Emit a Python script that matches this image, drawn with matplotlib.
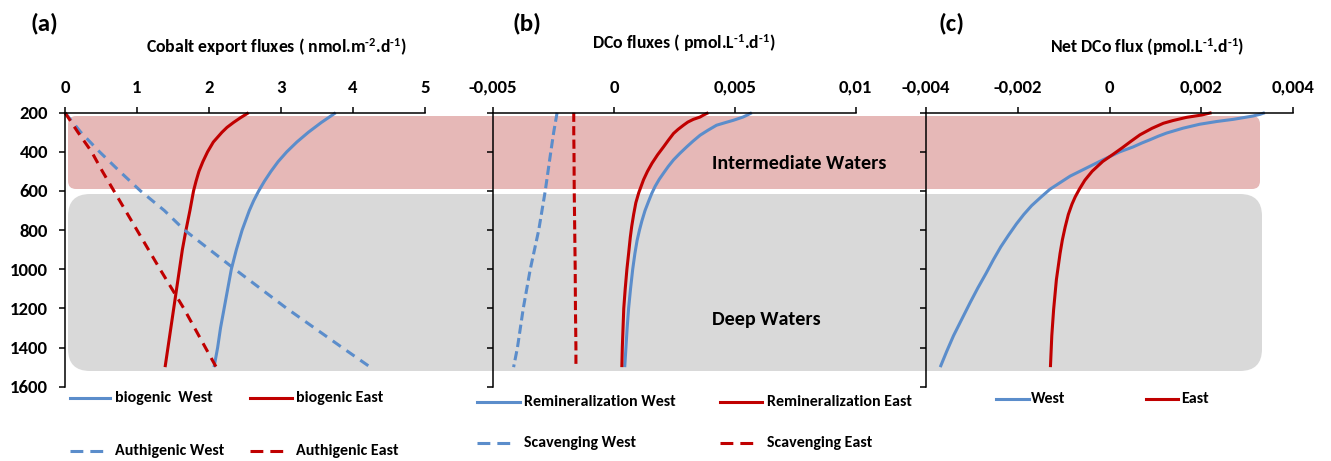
import matplotlib
matplotlib.use("Agg")
import matplotlib.pyplot as plt
from matplotlib.patches import FancyBboxPatch
from matplotlib.lines import Line2D

plt.rcParams['font.family'] = ['Carlito', 'DejaVu Sans']
plt.rcParams['font.weight'] = 'bold'
plt.rcParams['mathtext.fontset'] = 'custom'
plt.rcParams['mathtext.rm'] = 'Carlito:bold'
plt.rcParams['mathtext.bf'] = 'Carlito:bold'
plt.rcParams['mathtext.it'] = 'Carlito:bold:italic'
plt.rcParams['mathtext.sf'] = 'Carlito:bold'

# ---------------- data ----------------
depth_ticks = [200, 400, 600, 800, 1000, 1200, 1400, 1600]

# panel (a): Cobalt export fluxes (nmol m-2 d-1)
a_depth = [200, 225, 250, 275, 300, 350, 400, 450, 500, 550, 600, 650, 700,
           800, 900, 1000, 1100, 1200, 1300, 1400, 1500]
a_bio_west = [3.76, 3.66, 3.56, 3.47, 3.38, 3.22, 3.08, 2.96, 2.86, 2.77,
              2.69, 2.62, 2.56, 2.46, 2.38, 2.31, 2.26, 2.21, 2.16, 2.12, 2.07]
a_bio_east = [2.55, 2.44, 2.34, 2.25, 2.18, 2.06, 1.98, 1.915, 1.86, 1.82,
              1.785, 1.76, 1.735, 1.68, 1.63, 1.59, 1.55, 1.51, 1.47, 1.43,
              1.39]
a_auth_depth = [200, 300, 400, 500, 600, 700, 800, 1000, 1200, 1400, 1500]
a_auth_west = [0.0, 0.22, 0.48, 0.76, 1.05, 1.38, 1.66, 2.36, 3.08, 3.85, 4.24]
a_auth_east = [0.0, 0.18, 0.37, 0.52, 0.68, 0.84, 1.00, 1.32, 1.65, 1.95, 2.10]
a_xticks = [0, 1, 2, 3, 4, 5]
a_xlabels = ["0", "1", "2", "3", "4", "5"]

# panel (b): DCo fluxes (pmol L-1 d-1)
b_depth_west = [200, 211, 222, 239, 250, 264, 290, 315, 345, 374, 408, 441,
                475, 508, 540, 576, 612, 652, 700, 753, 800, 854, 920, 1000,
                1100, 1200, 1300, 1400, 1500]
b_remin_west = [0.0057, 0.00553, 0.00534, 0.00493, 0.00462, 0.00424,
                0.00388, 0.00356, 0.00327, 0.00301, 0.00272, 0.00246,
                0.00224, 0.00205, 0.00187, 0.0017, 0.00156, 0.00143,
                0.00128, 0.00115, 0.00105, 0.00095, 0.00086, 0.00077,
                0.00068, 0.0006, 0.00054, 0.00049, 0.00044]
b_depth_east = [200, 212, 222, 234, 248, 264, 285, 306, 340, 374, 415, 458,
                500, 542, 609, 660, 719, 780, 837, 920, 1000, 1100, 1200,
                1300, 1400, 1500]
b_remin_east = [0.0039, 0.0037, 0.00356, 0.00328, 0.00305, 0.00287,
                0.00265, 0.00246, 0.00225, 0.00205, 0.0018, 0.00157,
                0.00138, 0.00122, 0.00102, 0.0009, 0.00081, 0.00073,
                0.00067, 0.0006, 0.00053, 0.00046, 0.0004, 0.00037,
                0.00034, 0.00032]
b_scav_depth = [200, 300, 400, 600, 800, 1000, 1200, 1400, 1500]
b_scav_west = [-0.00236, -0.0025, -0.00262, -0.00285, -0.00312, -0.00347,
               -0.00376, -0.0040, -0.00416]
b_scav_east = [-0.00167, -0.00167, -0.00166, -0.00165, -0.00163, -0.00161,
               -0.0016, -0.00158, -0.00158]
b_xticks = [-0.005, 0, 0.005, 0.01]
b_xlabels = ["-0,005", "0", "0,005", "0,01"]

# panel (c): Net DCo flux (pmol L-1 d-1)
c_depth_west = [200, 208, 217, 225, 234, 245, 259, 279, 304, 320, 338, 355,
                375, 400, 440, 482, 524, 591, 630, 675, 720, 768, 825, 885,
                950, 1020, 1095, 1171, 1255, 1339, 1420, 1500]
c_west = [0.00338, 0.00328, 0.00312, 0.00292, 0.00269, 0.00233, 0.00196,
          0.0016, 0.00124, 0.00106, 0.00088, 0.0007, 0.00051, 0.00022,
          -0.00014, -0.0005, -0.00086, -0.0013, -0.00149, -0.0017, -0.00187,
          -0.00203, -0.0022, -0.00237, -0.00253, -0.00269, -0.00287,
          -0.00304, -0.00322, -0.0034, -0.00355, -0.00369]
c_depth_east = [200, 212, 224, 240, 254, 280, 313, 345, 380, 415, 449, 499,
                545, 591, 630, 667, 720, 785, 850, 919, 1053, 1205, 1339, 1500]
c_east = [0.00222, 0.0020, 0.00167, 0.00138, 0.00117, 0.00092, 0.00066,
          0.00047, 0.00027, 0.00006, -0.00015, -0.00038, -0.00054, -0.00066,
          -0.00075, -0.00082, -0.0009, -0.00097, -0.00103, -0.00108,
          -0.00116, -0.00122, -0.00126, -0.00129]
c_xticks = [-0.004, -0.002, 0, 0.002, 0.004]
c_xlabels = ["-0,004", "-0,002", "0", "0,002", "0,004"]

# ---------------- style ----------------
BLUE = '#5B8DCB'
RED = '#C00000'
PINK = '#E6B8B7'
GREY = '#D9D9D9'
LW = 2.2
W, H = 1331, 461

fig = plt.figure(figsize=(W / 100, H / 100), dpi=100)

# background layer in pixel coordinates
bg = fig.add_axes([0, 0, 1, 1], zorder=0)
bg.set_xlim(0, W)
bg.set_ylim(H, 0)
bg.axis('off')
bg.add_patch(FancyBboxPatch((68, 116), 1192, 73,
                            boxstyle="round,pad=0,rounding_size=8",
                            fc=PINK, ec='none'))
bg.add_patch(FancyBboxPatch((68, 194), 1194, 177,
                            boxstyle="round,pad=0,rounding_size=22",
                            fc=GREY, ec='none'))
bg.text(712, 163, "Intermediate Waters", fontsize=14.5, weight='bold',
        ha='left', va='center')
bg.text(712, 319, "Deep Waters", fontsize=14.5, weight='bold',
        ha='left', va='center')

# panel letters and titles
bg.text(44, 23, "(a)", fontsize=18, weight='bold', ha='center', va='center')
bg.text(527, 23, "(b)", fontsize=18, weight='bold', ha='center', va='center')
bg.text(952, 23, "(c)", fontsize=18, weight='bold', ha='center', va='center')
TS = 12.8
bg.text(276, 47, r"Cobalt export fluxes ( nmol.m$^{\text{-2}}$.d$^{\text{-1}}$)",
        fontsize=TS, ha='center', va='center')
bg.text(684, 43, r"DCo fluxes ( pmol.L$^{\text{-1}}$.d$^{\text{-1}}$)",
        fontsize=TS, ha='center', va='center')
bg.text(1147, 47, r"Net DCo flux (pmol.L$^{\text{-1}}$.d$^{\text{-1}}$)",
        fontsize=TS, ha='center', va='center')


def setup(ax, xlim, xticks, xlabels, show_y):
    ax.set_facecolor('none')
    ax.set_xlim(*xlim)
    ax.set_ylim(1600, 200)
    for s in ['right', 'bottom']:
        ax.spines[s].set_visible(False)
    for s in ['top', 'left']:
        ax.spines[s].set_linewidth(1.1)
    ax.xaxis.tick_top()
    ax.set_xticks(xticks)
    ax.set_xticklabels(xlabels)
    ax.set_yticks(depth_ticks)
    if show_y:
        ax.set_yticklabels([str(d) for d in depth_ticks])
    else:
        ax.set_yticklabels([])
    ax.tick_params(axis='both', direction='out', length=4.3, width=1.1,
                   labelsize=13.5, pad=8)


bottom = 1 - 386.7 / H
height = (386.7 - 112.7) / H
axa = fig.add_axes([65 / W, bottom, 360 / W, height], zorder=1)
axb = fig.add_axes([493.3 / W, bottom, 362.4 / W, height], zorder=1)
axc = fig.add_axes([926 / W, bottom, 367.3 / W, height], zorder=1)

setup(axa, (0, 5), a_xticks, a_xlabels, True)
setup(axb, (-0.005, 0.01), b_xticks, b_xlabels, False)
setup(axc, (-0.004, 0.004), c_xticks, c_xlabels, False)

dash_a = (0, (3.2, 2.3))
dash_b = (0, (3.0, 1.4))
kw = dict(lw=LW, clip_on=False, solid_joinstyle='round', solid_capstyle='butt')

axa.plot(a_bio_west, a_depth, color=BLUE, **kw)
axa.plot(a_bio_east, a_depth, color=RED, **kw)
axa.plot(a_auth_west, a_auth_depth, color=BLUE, ls=dash_a, **kw)
axa.plot(a_auth_east, a_auth_depth, color=RED, ls=dash_a, **kw)

axb.plot(b_remin_west, b_depth_west, color=BLUE, **kw)
axb.plot(b_remin_east, b_depth_east, color=RED, **kw)
axb.plot(b_scav_west, b_scav_depth, color=BLUE, ls=dash_b, **kw)
axb.plot(b_scav_east, b_scav_depth, color=RED, ls=dash_b, **kw)

axc.plot(c_west, c_depth_west, color=BLUE, **kw)
axc.plot(c_east, c_depth_east, color=RED, **kw)

# ---------------- legends (pixel coordinates) ----------------
leg_dash = (0, (4.2, 2.3))
legend_items = [
    # x0, x1, y, color, linestyle, text x, label
    (70, 110, 398, BLUE, '-', 115, "biogenic  West"),
    (250, 292, 398, RED, '-', 296, "biogenic East"),
    (70, 103, 451, BLUE, leg_dash, 115, "Authigenic West"),
    (250, 284, 451, RED, leg_dash, 296, "Authigenic East"),
    (477, 520, 402, BLUE, '-', 524, "Remineralization West"),
    (720, 762, 402, RED, '-', 767, "Remineralization East"),
    (477, 511, 443, BLUE, leg_dash, 524, "Scavenging West"),
    (720, 754, 443, RED, leg_dash, 767, "Scavenging East"),
    (996, 1029, 399, BLUE, '-', 1031, "West"),
    (1146, 1178, 399, RED, '-', 1181, "East"),
]
for x0, x1, y, col, ls, tx, lab in legend_items:
    bg.add_line(Line2D([x0, x1], [y, y], color=col, lw=LW, ls=ls))
    bg.text(tx, y, lab, fontsize=11.5, weight='bold', ha='left', va='center')

fig.savefig("out.png", dpi=100)
